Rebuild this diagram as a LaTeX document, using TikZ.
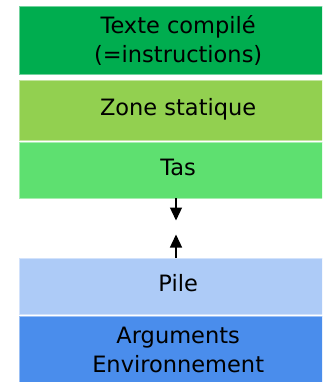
\documentclass[tikz,border=0pt]{standalone}
\usepackage{fontspec}
\setmainfont{DejaVu Sans}
\usetikzlibrary{arrows.meta}
\definecolor{cA}{RGB}{0,173,79}
\definecolor{cB}{RGB}{146,208,80}
\definecolor{cC}{RGB}{94,224,112}
\definecolor{cD}{RGB}{173,203,247}
\definecolor{cE}{RGB}{74,141,236}
\tikzset{
  membox/.style={rectangle, minimum width=317.7pt, inner sep=0pt, outer sep=0pt,
    font=\fontsize{22.5}{29.4}\selectfont, align=center, text=black, line width=0.8pt},
  oneline/.style={text height=16.5pt, text depth=5pt},
  arr/.style={line width=1.3pt, -{Triangle[length=13pt,width=12pt]}}
}
\begin{document}
\begin{tikzpicture}[x=1pt,y=-1pt]
\useasboundingbox (0,0) rectangle (322,382);
\clip (0,0) rectangle (322,382);
\node[membox, minimum height=68pt, fill=cA, draw=cA!55!white] (txt) at (178.15,40.5) {Texte compilé\\(=instructions)};
\node[membox, oneline, minimum height=60pt, fill=cB, draw=cB!55!white] (stat) at (178.15,110) {Zone statique};
\node[membox, oneline, minimum height=56pt, fill=cC, draw=cC!55!white] (tas) at (178.15,170) {Tas};
\node[membox, oneline, minimum height=56pt, fill=cD, draw=cD!55!white] (pile) at (178.15,286) {Pile};
\node[membox, minimum height=68pt, fill=cE, draw=cE!55!white] (args) at (178.15,350) {Arguments\\Environnement};
\coordinate (tasend) at (176,220.5);
\coordinate (pileend) at (176,234.5);
\draw[arr] (tas.south -| tasend) -- (tasend);
\draw[arr] (pile.north -| pileend) -- (pileend);
\end{tikzpicture}
\end{document}
